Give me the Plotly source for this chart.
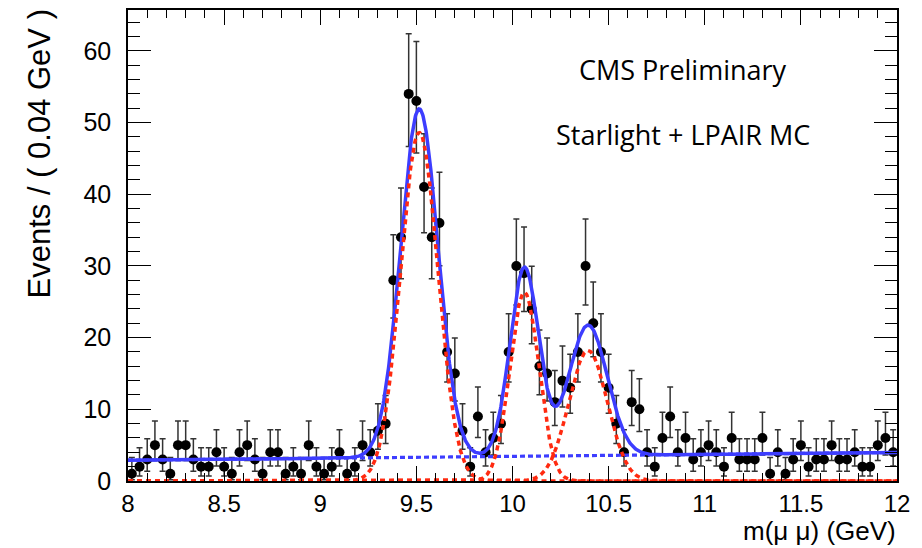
import numpy as np
import plotly.graph_objects as go

# ---------------- data ----------------
bin_lo, bin_w = 8.0, 0.04
counts = [1, 2, 3, 5, 3, 1, 5, 5, 3, 2, 2, 4, 2, 1, 4, 5, 3, 1, 4, 4,
          1, 2, 1, 5, 2, 1, 2, 4, 1, 2, 5, 4, 7, 8, 28, 34, 54, 53, 41, 34,
          36, 18, 15, 7, 2, 9, 4, 6, 8, 18, 30, 29, 24, 16, 15, 11, 14, 13, 18, 30,
          22, 18, 13, 8, 4, 11, 10, 4, 2, 6, 9, 4, 6, 3, 4, 5, 4, 2, 6, 3,
          3, 3, 6, 1, 4, 1, 3, 5, 2, 3, 3, 5, 3, 3, 4, 2, 2, 5, 6, 4]

# fit model parameters
peak_mean = [9.515, 10.062, 10.393]
peak_sigma = [0.097, 0.075, 0.100]
peak_amp = [48.6, 26.3, 18.2]
bkg_at_8 = 2.9
bkg_slope = 0.27

x_ticks = [8, 8.5, 9, 9.5, 10, 10.5, 11, 11.5, 12]
x_tick_text = ["8", "8.5", "9", "9.5", "10", "10.5", "11", "11.5", "12"]
y_ticks = [0, 10, 20, 30, 40, 50, 60]

# ---------------- derived ----------------
n = np.array(counts, dtype=float)
xc = bin_lo + bin_w * (np.arange(len(n)) + 0.5)

# approximate Garwood (Poisson 68%) intervals
up = (n + 1) * (1 - 1 / (9 * (n + 1)) + 1 / (3 * np.sqrt(n + 1))) ** 3
with np.errstate(divide="ignore", invalid="ignore"):
    lo = np.where(n > 0, n * (1 - 1 / (9 * n) - 1 / (3 * np.sqrt(n))) ** 3, 0)
err_plus = up - n
err_minus = n - lo

xf = np.linspace(8, 12, 1601)
bkg = bkg_at_8 + bkg_slope * (xf - 8)
sigs = [a * np.exp(-0.5 * ((xf - m) / s) ** 2) for m, s, a in zip(peak_mean, peak_sigma, peak_amp)]
total = bkg + sum(sigs)

fig = go.Figure()
fig.add_trace(go.Scatter(
    x=xc, y=n, mode="markers",
    marker=dict(color="black", size=10),
    error_y=dict(type="data", symmetric=False, array=err_plus, arrayminus=err_minus,
                 color="#333333", thickness=1.5, width=3),
    showlegend=False))
fig.add_trace(go.Scatter(x=xf, y=total, mode="lines",
                         line=dict(color="#3d3dff", width=3.5), showlegend=False))
fig.add_trace(go.Scatter(x=xf, y=bkg, mode="lines",
                         line=dict(color="#3d3dff", width=3.2, dash="5px,3px"), showlegend=False))
for s in sigs:
    fig.add_trace(go.Scatter(x=xf, y=s, mode="lines",
                             line=dict(color="#ff2a10", width=3.5, dash="5px,4px"), showlegend=False))

helv = "Liberation Sans, Arial, sans-serif"
axis_font = dict(family=helv, size=24, color="black")

W, H = 922, 548
L, R, T, B = 128, 25, 8, 67
fig.update_layout(
    width=W, height=H,
    margin=dict(l=L, r=R, t=T, b=B),
    paper_bgcolor="white", plot_bgcolor="white",
    xaxis=dict(range=[8, 12], tickvals=x_ticks, ticktext=x_tick_text,
               showgrid=False, zeroline=False,
               showline=True, linecolor="black", linewidth=1.5, mirror="allticks",
               ticks="inside", ticklen=15, tickwidth=1.2, tickcolor="black",
               minor=dict(dtick=0.1, ticks="inside", ticklen=8, tickcolor="black", tickwidth=1.2, showgrid=False),
               tickfont=axis_font, ticklabelstandoff=0),
    yaxis=dict(range=[0, 65.7], tickvals=y_ticks,
               showgrid=False, zeroline=False,
               showline=True, linecolor="black", linewidth=1.5, mirror="allticks",
               ticks="inside", ticklen=23, tickwidth=1.2, tickcolor="black",
               minor=dict(dtick=2, ticks="inside", ticklen=12, tickcolor="black", tickwidth=1.2, showgrid=False),
               tickfont=dict(family=helv, size=25, color="black"), ticklabelstandoff=10),
)

pw, ph = W - L - R, H - T - B
def px(xp): return (xp - L) / pw
def py(yp): return (H - B - yp) / ph

fig.add_annotation(text="CMS Preliminary", x=px(683), y=py(68), xref="paper", yref="paper",
                   showarrow=False, xanchor="center", yanchor="middle",
                   font=dict(family="Open Sans", size=27, color="black"))
fig.add_annotation(text="Starlight + LPAIR MC", x=px(683), y=py(133), xref="paper", yref="paper",
                   showarrow=False, xanchor="center", yanchor="middle",
                   font=dict(family="Open Sans", size=27, color="black"))
fig.add_annotation(text="m(\u03bc \u03bc) (GeV)", x=px(898), y=py(548), xref="paper", yref="paper",
                   showarrow=False, xanchor="right", yanchor="bottom",
                   font=dict(family=helv, size=26, color="black"))
fig.add_annotation(text="Events / ( 0.04 GeV )", x=px(40), y=py(6), xref="paper", yref="paper",
                   showarrow=False, xanchor="center", yanchor="top", textangle=-90,
                   font=dict(family=helv, size=31, color="black"))

fig.write_html("out.html")
